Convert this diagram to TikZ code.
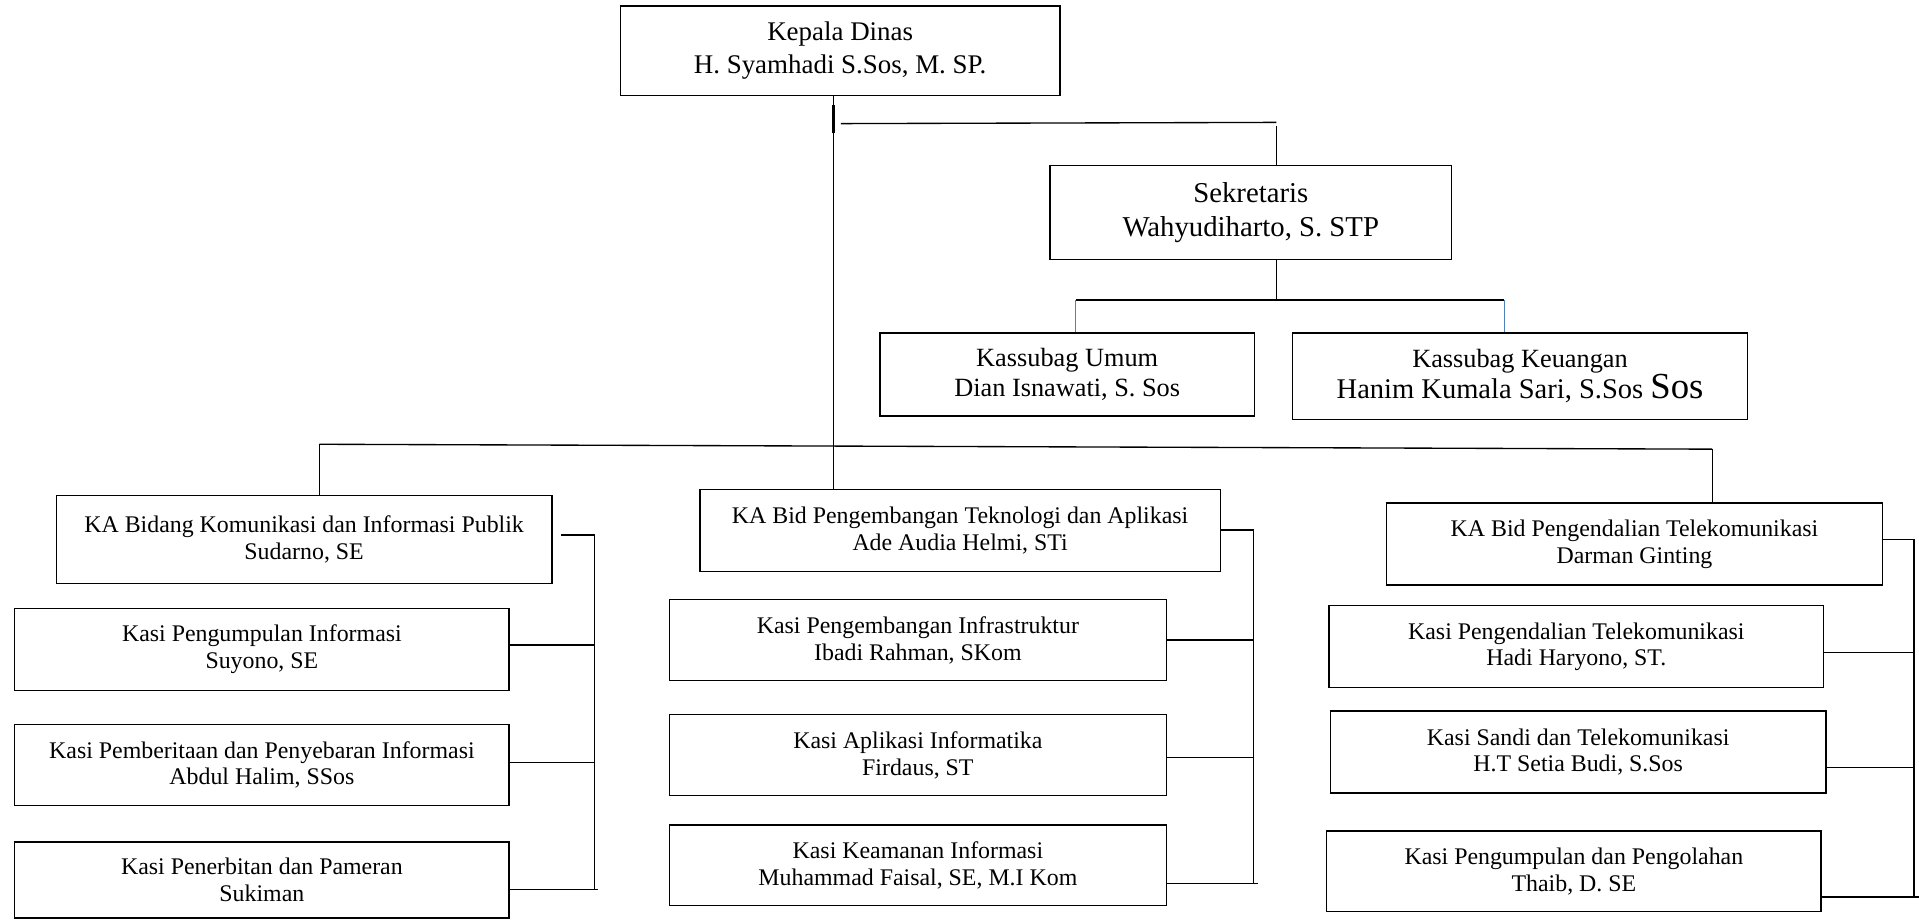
\documentclass[tikz,border=0pt]{standalone}
\usepackage{fontspec}
\setmainfont{Liberation Serif}

\begin{document}
\begin{tikzpicture}[x=1pt, y=-1pt, line width=1.1pt,
  box/.style={draw, align=center, inner sep=0pt, font=\fontsize{19.5}{22}\selectfont},
  topbox/.style={box, font=\fontsize{22}{27}\selectfont},
  sekbox/.style={box, font=\fontsize{23.5}{28}\selectfont},
  subbox/.style={box, font=\fontsize{21.5}{25}\selectfont},
  blueline/.style={draw={rgb,255:red,79;green,129;blue,189}, line width=0.8pt}]

\useasboundingbox (0,0) rectangle (1568,752);

\node[name=kepala, topbox, minimum width=359pt, minimum height=73pt] at (686.5,41.5) {Kepala Dinas\\H. Syamhadi S.Sos, M. SP.};
\node[name=sekretaris, sekbox, minimum width=328pt, minimum height=77pt] at (1022,173.5) {Sekretaris\\Wahyudiharto, S. STP};
\node[name=umum, subbox, minimum width=306pt, minimum height=68pt] at (872,306) {Kassubag Umum\\Dian Isnawati, S. Sos};
\node[name=keuangan, subbox, minimum width=372pt, minimum height=71pt] at (1242,307.5) {Kassubag Keuangan\\{\fontsize{23.3}{25}\selectfont Hanim Kumala Sari, S.Sos {\fontsize{30}{25}\selectfont Sos}}};

\node[name=kabidkom, box, minimum width=405pt, minimum height=72pt] at (248.5,441) {KA Bidang Komunikasi dan Informasi Publik\\Sudarno, SE};
\node[name=kasi1, box, minimum width=404pt, minimum height=67pt] at (214,530.5) {Kasi Pengumpulan Informasi\\Suyono, SE};
\node[name=kasi2, box, minimum width=404pt, minimum height=66pt] at (214,625) {Kasi Pemberitaan dan Penyebaran Informasi\\Abdul Halim, SSos};
\node[name=kasi3, box, minimum width=404pt, minimum height=62pt] at (214,719) {Kasi Penerbitan dan Pameran\\Sukiman};

\node[name=kabidtek, box, minimum width=425pt, minimum height=67pt] at (784.5,433.5) {KA Bid Pengembangan Teknologi dan Aplikasi\\Ade Audia Helmi, STi};
\node[name=kasi4, box, minimum width=406pt, minimum height=66pt] at (750,523) {Kasi Pengembangan Infrastruktur\\Ibadi Rahman, SKom};
\node[name=kasi5, box, minimum width=406pt, minimum height=66pt] at (750,617) {Kasi Aplikasi Informatika\\Firdaus, ST};
\node[name=kasi6, box, minimum width=406pt, minimum height=66pt] at (750,707) {Kasi Keamanan Informasi\\Muhammad Faisal, SE, M.I Kom};

\node[name=kabidtel, box, minimum width=405pt, minimum height=67pt] at (1335.5,444.5) {KA Bid Pengendalian Telekomunikasi\\Darman Ginting};
\node[name=kasi7, box, minimum width=404pt, minimum height=67pt] at (1288,528.5) {Kasi Pengendalian Telekomunikasi\\Hadi Haryono, ST.};
\node[name=kasi8, box, minimum width=405pt, minimum height=67pt] at (1289.5,614.5) {Kasi Sandi dan Telekomunikasi\\H.T Setia Budi, S.Sos};
\node[name=kasi9, box, minimum width=404pt, minimum height=66pt] at (1286,712) {Kasi Pengumpulan dan Pengolahan\\Thaib, D. SE};

\coordinate (trunk) at (681,102);
\coordinate (sekjoin) at (1043,100);
\coordinate (subjoin) at (1043,245);
\coordinate (umumjoin) at (879,245);
\coordinate (keujoin) at (1229,245);
\coordinate (barleft) at (261,363);
\coordinate (barright) at (1399,367);
\coordinate (railkom) at (486,437);
\coordinate (railtek) at (1024,433);
\coordinate (railtel) at (1564,441);

\draw (kepala.south -| trunk) -- (kabidtek.north -| trunk);
\draw[line width=2.2pt] ([yshift=-7pt]trunk) -- ([yshift=16pt]trunk);
\draw ([xshift=6pt,yshift=1pt]trunk) -- (sekjoin);
\draw ([yshift=-3pt]sekjoin) -- (sekretaris.north -| sekjoin);

\draw (sekretaris.south -| subjoin) -- (subjoin);
\draw (umumjoin) -- (keujoin);
\draw[blueline] (umumjoin) -- (umum.north -| umumjoin);
\draw[blueline] (keujoin) -- (keuangan.north -| keujoin);

\draw (barleft) -- (barright);
\draw (barleft) -- (kabidkom.north -| barleft);
\draw (barright) -- (kabidtel.north -| barright);

\draw ([xshift=7pt]kabidkom.east |- railkom) -- (railkom) -- ++(0,290);
\draw (kasi1.east |- 0,527) -- (railkom |- 0,527);
\draw (kasi2.east |- 0,623) -- (railkom |- 0,623);
\draw (kasi3.east |- 0,727) -- ([xshift=3pt]railkom |- 0,727);

\draw (kabidtek.east |- railtek) -- (railtek) -- ++(0,289);
\draw (kasi4.east |- 0,523) -- (railtek |- 0,523);
\draw (kasi5.east |- 0,619) -- (railtek |- 0,619);
\draw (kasi6.east |- 0,722) -- ([xshift=4pt]railtek |- 0,722);

\draw (kabidtel.east |- railtel) -- (railtel) -- ++(0,292);
\draw (kasi7.east |- 0,533) -- (railtel |- 0,533);
\draw (kasi8.east |- 0,627) -- (railtel |- 0,627);
\draw (kasi9.east |- 0,733) -- ([xshift=4pt]railtel |- 0,733);
\end{tikzpicture}
\end{document}
